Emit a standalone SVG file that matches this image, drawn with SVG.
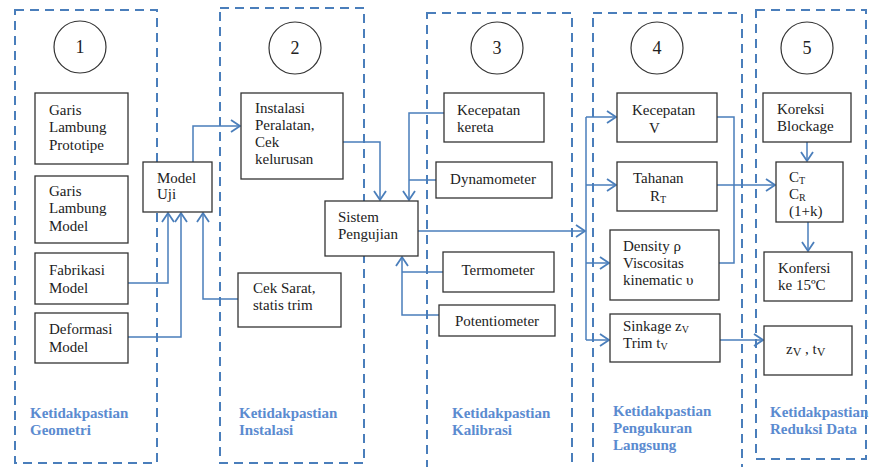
<svg xmlns="http://www.w3.org/2000/svg" width="869" height="467" viewBox="0 0 869 467">
<defs>
<marker id="arr" markerUnits="userSpaceOnUse" markerWidth="14" markerHeight="14" refX="11" refY="7" orient="auto">
<path d="M2,1 L11,7 L2,13" fill="none" stroke="#4a7ebb" stroke-width="1.8"/>
</marker>
</defs>
<style>
.panel{fill:none;stroke:#4a7ebb;stroke-width:2;stroke-dasharray:9 6}
.box{fill:#fff;stroke:#333;stroke-width:1.3}
.circ{fill:#fff;stroke:#333;stroke-width:1.2}
.t{font-family:"Liberation Serif","Times New Roman","DejaVu Serif",serif;font-size:15px;fill:#222}
.n{font-family:"Liberation Serif","Times New Roman","DejaVu Serif",serif;font-size:18px;fill:#222;text-anchor:middle}
.lab{font-family:"Liberation Serif","Times New Roman","DejaVu Serif",serif;font-size:15px;font-weight:bold;fill:#5b8bd0}
.c{fill:none;stroke:#4a7ebb;stroke-width:1.5}
.ca{fill:none;stroke:#4a7ebb;stroke-width:1.5;marker-end:url(#arr)}
</style>
<rect width="869" height="467" fill="#fff"/>
<g id="panels">
<rect class="panel" x="15" y="10" width="142" height="453"/>
<rect class="panel" x="220" y="8" width="144" height="455"/>
<rect class="panel" x="427" y="13" width="145" height="458"/>
<rect class="panel" x="593" y="13" width="149" height="458"/>
<rect class="panel" x="756" y="10" width="110" height="449"/>
</g>
<g id="connectors">
<path class="ca" d="M128,283 H168 V213"/>
<path class="ca" d="M128,337 H181 V213"/>
<path class="ca" d="M238,299 H203 V213"/>
<path class="ca" d="M193,162 V126 H240"/>
<path class="ca" d="M343,142 H380 V200"/>
<path class="ca" d="M444,113 H409 V200"/>
<path class="c" d="M436,180 H409"/>
<path class="c" d="M443,272 H402"/>
<path class="ca" d="M439,315 H402 V257"/>
<path class="ca" d="M418,231 H585"/>
<path class="c" d="M586,117 V340"/>
<path class="ca" d="M586,117 H616"/>
<path class="ca" d="M586,185 H616"/>
<path class="ca" d="M586,263 H609"/>
<path class="ca" d="M586,340 H609"/>
<path class="c" d="M717,117 H734 V263 H719"/>
<path class="ca" d="M717,185 H775"/>
<path class="ca" d="M807,142 V161"/>
<path class="ca" d="M808,222 V251"/>
<path class="ca" d="M720,340 H763"/>
</g>
<g id="n1"><circle class="circ" cx="80" cy="47" r="26"/><text class="n" x="80" y="53">1</text></g>
<g id="n2"><circle class="circ" cx="295" cy="48" r="26"/><text class="n" x="295" y="54">2</text></g>
<g id="n3"><circle class="circ" cx="497" cy="48" r="26"/><text class="n" x="497" y="54">3</text></g>
<g id="n4"><circle class="circ" cx="657" cy="48" r="26"/><text class="n" x="657" y="54">4</text></g>
<g id="n5"><circle class="circ" cx="807" cy="48" r="26"/><text class="n" x="807" y="54">5</text></g>
<g id="garis-prototipe"><rect class="box" x="35" y="93" width="93" height="71"/>
<text class="t" x="49" y="115">Garis</text><text class="t" x="49" y="132">Lambung</text><text class="t" x="49" y="150">Prototipe</text></g>
<g id="garis-model"><rect class="box" x="35" y="176" width="93" height="67"/>
<text class="t" x="49" y="196">Garis</text><text class="t" x="49" y="213">Lambung</text><text class="t" x="49" y="231">Model</text></g>
<g id="fabrikasi"><rect class="box" x="35" y="253" width="93" height="51"/>
<text class="t" x="49" y="275">Fabrikasi</text><text class="t" x="49" y="293">Model</text></g>
<g id="deformasi"><rect class="box" x="35" y="313" width="93" height="50"/>
<text class="t" x="49" y="334">Deformasi</text><text class="t" x="49" y="352">Model</text></g>
<g id="model-uji"><rect class="box" x="143" y="162" width="69" height="50"/>
<text class="t" x="157" y="183">Model</text><text class="t" x="157" y="199">Uji</text></g>
<g id="instalasi"><rect class="box" x="241" y="93" width="102" height="86"/>
<text class="t" x="255" y="113">Instalasi</text><text class="t" x="255" y="130">Peralatan,</text><text class="t" x="255" y="147">Cek</text><text class="t" x="255" y="164">kelurusan</text></g>
<g id="cek-sarat"><rect class="box" x="238" y="273" width="103" height="54"/>
<text class="t" x="253" y="293">Cek  Sarat,</text><text class="t" x="253" y="310">statis trim</text></g>
<g id="sistem"><rect class="box" x="325" y="201" width="93" height="55"/>
<text class="t" x="338" y="222">Sistem</text><text class="t" x="338" y="239">Pengujian</text></g>
<g id="kecepatan-kereta"><rect class="box" x="444" y="93" width="100" height="49"/>
<text class="t" x="457" y="115">Kecepatan</text><text class="t" x="457" y="132">kereta</text></g>
<g id="dynamometer"><rect class="box" x="436" y="162" width="116" height="36"/>
<text class="t" x="493" y="184" text-anchor="middle">Dynamometer</text></g>
<g id="termometer"><rect class="box" x="443" y="252" width="111" height="40"/>
<text class="t" x="498" y="275" text-anchor="middle">Termometer</text></g>
<g id="potentiometer"><rect class="box" x="439" y="305" width="116" height="31"/>
<text class="t" x="497" y="326" text-anchor="middle">Potentiometer</text></g>
<g id="kecepatan-v"><rect class="box" x="617" y="93" width="100" height="49"/>
<text class="t" x="632" y="115">Kecepatan</text><text class="t" x="649" y="133">V</text></g>
<g id="tahanan"><rect class="box" x="617" y="162" width="100" height="49"/>
<text class="t" x="633" y="183">Tahanan</text><text class="t" x="650" y="201">R<tspan font-size="10" dy="2">T</tspan></text></g>
<g id="density"><rect class="box" x="610" y="230" width="109" height="70"/>
<text class="t" x="623" y="251">Density ρ</text><text class="t" x="623" y="268">Viscositas</text><text class="t" x="623" y="285">kinematic υ</text></g>
<g id="sinkage"><rect class="box" x="610" y="314" width="110" height="48"/>
<text class="t" x="623" y="331">Sinkage z<tspan font-size="10" dy="2">V</tspan></text><text class="t" x="623" y="348">Trim t<tspan font-size="10" dy="2">V</tspan></text></g>
<g id="koreksi"><rect class="box" x="763" y="93" width="88" height="49"/>
<text class="t" x="777" y="114">Koreksi</text><text class="t" x="777" y="131">Blockage</text></g>
<g id="ct-cr"><rect class="box" x="776" y="162" width="67" height="60"/>
<text class="t" x="789" y="182">C<tspan font-size="10" dy="2">T</tspan></text><text class="t" x="789" y="199">C<tspan font-size="10" dy="2">R</tspan></text><text class="t" x="789" y="216">(1+k)</text></g>
<g id="konfersi"><rect class="box" x="764" y="252" width="88" height="49"/>
<text class="t" x="778" y="273">Konfersi</text><text class="t" x="778" y="290">ke 15ºC</text></g>
<g id="zv-tv"><rect class="box" x="764" y="326" width="88" height="49"/>
<text class="t" x="786" y="354" font-size="17">z<tspan font-size="12" dy="2">V</tspan><tspan dy="-2"> , t</tspan><tspan font-size="12" dy="2">V</tspan></text></g>
<g id="labels">
<text class="lab" x="30" y="418">Ketidakpastian</text><text class="lab" x="30" y="435">Geometri</text>
<text class="lab" x="239" y="418">Ketidakpastian</text><text class="lab" x="239" y="435">Instalasi</text>
<text class="lab" x="452" y="418">Ketidakpastian</text><text class="lab" x="452" y="435">Kalibrasi</text>
<text class="lab" x="613" y="416">Ketidakpastian</text><text class="lab" x="613" y="433">Pengukuran</text><text class="lab" x="613" y="450">Langsung</text>
<text class="lab" x="770" y="417">Ketidakpastian</text><text class="lab" x="770" y="434">Reduksi Data</text>
</g>
</svg>
